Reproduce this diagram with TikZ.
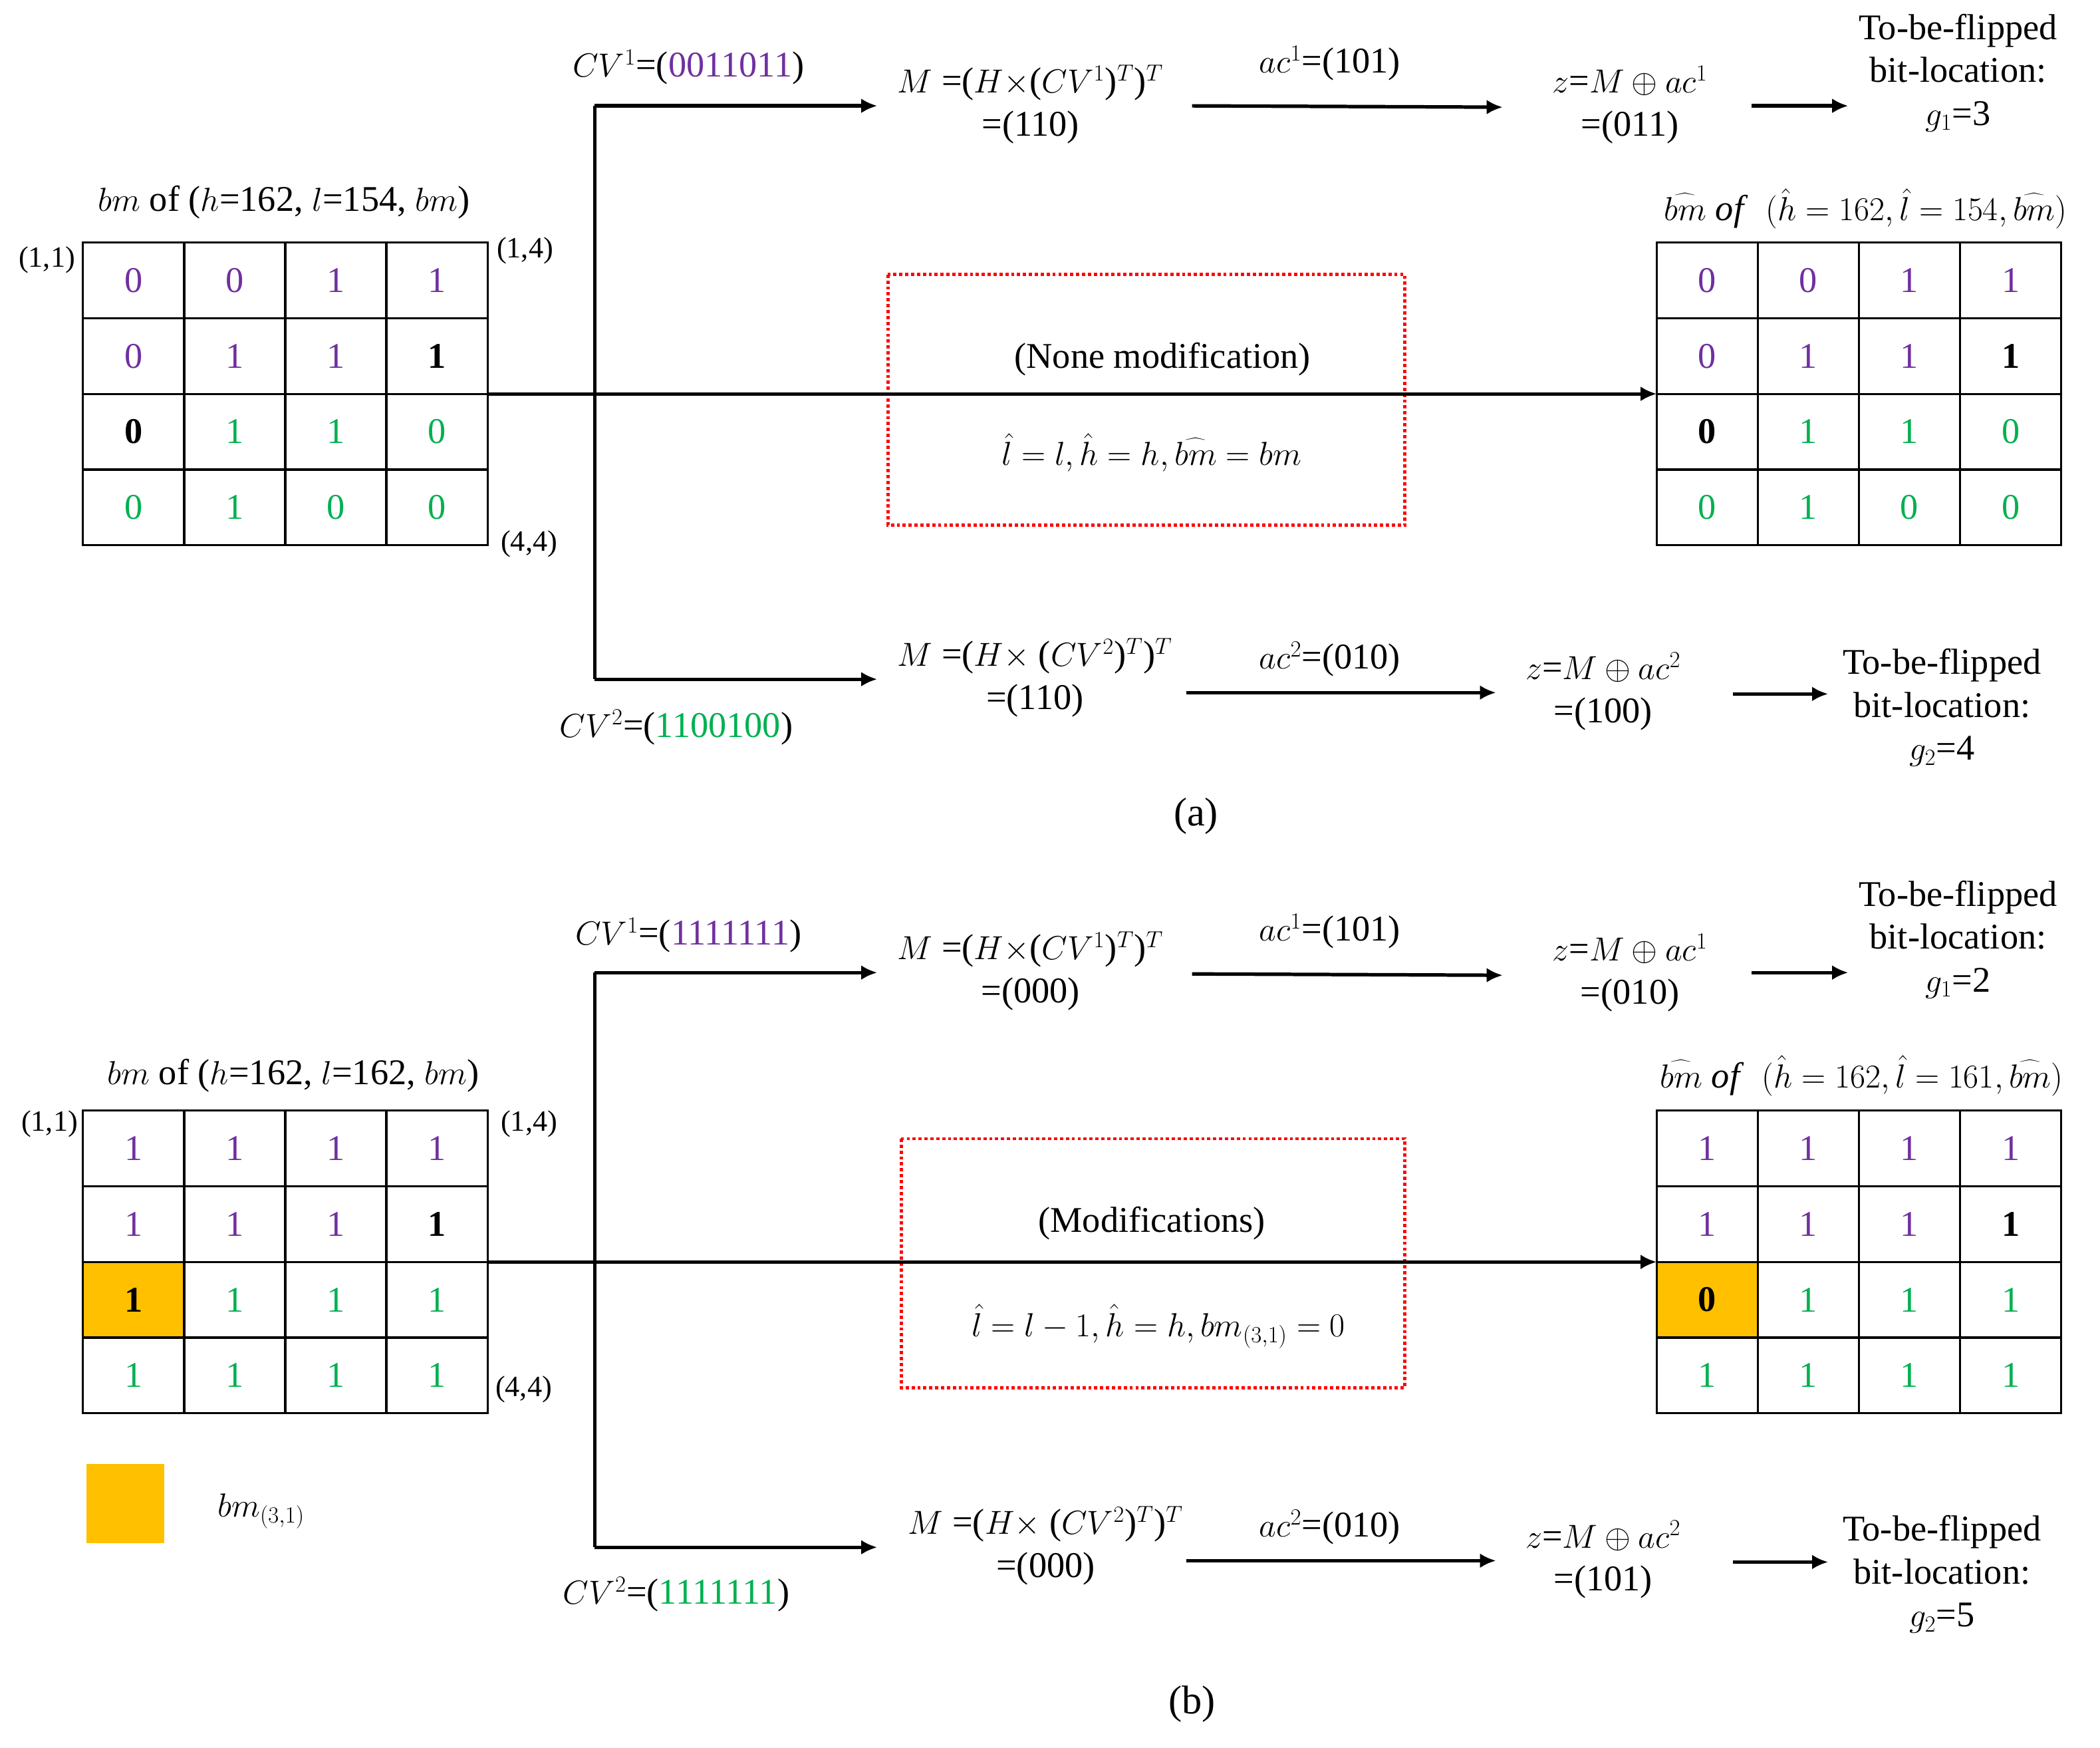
\documentclass[tikz,border=0pt]{standalone}
\usepackage{fontspec}
\setmainfont{Liberation Serif}
\usetikzlibrary{arrows.meta}
\definecolor{pp}{RGB}{112,48,160}
\definecolor{gg}{RGB}{0,176,80}
\definecolor{kk}{RGB}{0,0,0}
\definecolor{yy}{RGB}{255,192,0}
\begin{document}
\begin{tikzpicture}[x=1pt,y=-1pt,
  every node/.style={font=\fontsize{27}{32}\selectfont, inner sep=0pt},
  cell/.style={draw, line width=1.6pt, minimum width=75.5pt, minimum height=56.5pt, anchor=center},
  arr/.style={line width=2.6pt, -{Latex[length=12pt,width=11pt]}},
  ln/.style={line width=2.6pt},
  redbox/.style={draw=red, line width=2.4pt, dotted},
  sm/.style={font=\fontsize{22}{26}\selectfont}]
\useasboundingbox (0,0) rectangle (1568,1304.4);

\newcommand{\mygrid}[4]{%
  \foreach \c/\t/\f [count=\i from 0] in {#4} {
    \pgfmathtruncatemacro{\col}{mod(\i,4)}
    \pgfmathtruncatemacro{\row}{int(\i/4)}
    \node[cell, fill=\f, text=\c] (#1-\i) at ({#2+(\col+0.5)*75.5},{#3+(\row+0.5)*56.5}) {\t};
  }}

% ================= (a) =================
\mygrid{ga}{62}{181}{pp/0/white,pp/0/white,pp/1/white,pp/1/white,
 pp/0/white,pp/1/white,pp/1/white,kk/\textbf{1}/white,
 kk/\textbf{0}/white,gg/1/white,gg/1/white,gg/0/white,
 gg/0/white,gg/1/white,gg/0/white,gg/0/white}
\mygrid{ra}{1237}{181}{pp/0/white,pp/0/white,pp/1/white,pp/1/white,
 pp/0/white,pp/1/white,pp/1/white,kk/\textbf{1}/white,
 kk/\textbf{0}/white,gg/1/white,gg/1/white,gg/0/white,
 gg/0/white,gg/1/white,gg/0/white,gg/0/white}
\node (la) at (212,151) {$bm$ of ($h$=162, $l$=154, $bm$)};
\node[sm] (c11a) at (35,194) {(1,1)};
\node[sm] (c14a) at (392,187) {(1,4)};
\node[sm] (c44a) at (395,406) {(4,4)};
\node (lra) at (1393,156) {$\widehat{bm}$ \textit{of} \ $(\hat h=162,\hat l=154,\widehat{bm})$};

\coordinate (oa) at (364,294);
\coordinate (ta) at (444,79);
\coordinate (ba) at (444,507);
\coordinate (ea) at (1237,294);

\node (cv1a) at (514,50) {$CV^{1}$=(\textcolor{pp}{0011011})};
\node (cv2a) at (505,543) {$CV^{2}$=(\textcolor{gg}{1100100})};
\node[anchor=west] (m1a) at (664,79) {\begin{tabular}{c}$M$ =($H\times$($CV^1$)$^T$)$^T$\\=(110)\end{tabular}};
\node (ac1a) at (993,47) {$ac^1$=(101)};
\node (z1a) at (1217,79) {\begin{tabular}{c}$z$=$M\oplus ac^1$\\=(011)\end{tabular}};
\node (f1a) at (1462,55) {\begin{tabular}{c}To-be-flipped\\bit-location:\\$g_1$=3\end{tabular}};
\node[anchor=west] (m2a) at (664,507) {\begin{tabular}{c}$M$ =($H\times$ ($CV^2$)$^T$)$^T$\\=(110)\end{tabular}};
\node (ac2a) at (993,492) {$ac^2$=(010)};
\node (z2a) at (1197,517) {\begin{tabular}{c}$z$=$M\oplus ac^2$\\=(100)\end{tabular}};
\node (f2a) at (1450,529) {\begin{tabular}{c}To-be-flipped\\bit-location:\\$g_2$=4\end{tabular}};

\draw[redbox] (663,205) rectangle (1049,392);
\node (nm) at (868,268) {(None modification)};
\node (eqa) at (860,338) {$\hat l=l,\hat h=h,\widehat{bm}=bm$};

\draw[ln] (ta) -- (ba);
\draw[arr] (oa) -- (ea);
\draw[arr] (ta) -- (655,79);
\draw[arr] (ba) -- (655,507);
\draw[arr] (890,79) -- (1122,80);
\draw[arr] (1308,79) -- (1380,79);
\draw[arr] (886,517) -- (1117,517);
\draw[arr] (1294,518) -- (1365,518);
\node[font=\fontsize{30}{34}\selectfont] (capa) at (893,609) {(a)};

% ================= (b) =================
\mygrid{gb}{62}{829}{pp/1/white,pp/1/white,pp/1/white,pp/1/white,
 pp/1/white,pp/1/white,pp/1/white,kk/\textbf{1}/white,
 kk/\textbf{1}/yy,gg/1/white,gg/1/white,gg/1/white,
 gg/1/white,gg/1/white,gg/1/white,gg/1/white}
\mygrid{rb}{1237}{829}{pp/1/white,pp/1/white,pp/1/white,pp/1/white,
 pp/1/white,pp/1/white,pp/1/white,kk/\textbf{1}/white,
 kk/\textbf{0}/yy,gg/1/white,gg/1/white,gg/1/white,
 gg/1/white,gg/1/white,gg/1/white,gg/1/white}
\node (lb) at (219,803) {$bm$ of ($h$=162, $l$=162, $bm$)};
\node[sm] (c11b) at (37,839) {(1,1)};
\node[sm] (c14b) at (395,839) {(1,4)};
\node[sm] (c44b) at (391,1037) {(4,4)};
\node (lrb) at (1390,803) {$\widehat{bm}$ \textit{of} \ $(\hat h=162,\hat l=161,\widehat{bm})$};
\node[fill=yy, minimum width=58pt, minimum height=59pt] (leg) at (93.5,1122.5) {};
\node (legt) at (195,1128) {$bm_{(3,1)}$};

\coordinate (ob) at (364,942);
\coordinate (tb) at (444,726);
\coordinate (bb) at (444,1155);
\coordinate (eb) at (1237,942);

\node (cv1b) at (514,698) {$CV^{1}$=(\textcolor{pp}{1111111})};
\node (cv2b) at (505,1190) {$CV^{2}$=(\textcolor{gg}{1111111})};
\node[anchor=west] (m1b) at (664,726) {\begin{tabular}{c}$M$ =($H\times$($CV^1$)$^T$)$^T$\\=(000)\end{tabular}};
\node (ac1b) at (993,695) {$ac^1$=(101)};
\node (z1b) at (1217,727) {\begin{tabular}{c}$z$=$M\oplus ac^1$\\=(010)\end{tabular}};
\node (f1b) at (1462,702) {\begin{tabular}{c}To-be-flipped\\bit-location:\\$g_1$=2\end{tabular}};
\node[anchor=west] (m2b) at (672,1155) {\begin{tabular}{c}$M$ =($H\times$ ($CV^2$)$^T$)$^T$\\=(000)\end{tabular}};
\node (ac2b) at (993,1140) {$ac^2$=(010)};
\node (z2b) at (1197,1165) {\begin{tabular}{c}$z$=$M\oplus ac^2$\\=(101)\end{tabular}};
\node (f2b) at (1450,1176) {\begin{tabular}{c}To-be-flipped\\bit-location:\\$g_2$=5\end{tabular}};

\draw[redbox] (673,850) rectangle (1049,1036);
\node (md) at (860,913) {(Modifications)};
\node (eqb) at (865,990) {$\hat l=l-1,\hat h=h,bm_{(3,1)}=0$};

\draw[ln] (tb) -- (bb);
\draw[arr] (ob) -- (eb);
\draw[arr] (tb) -- (655,726);
\draw[arr] (bb) -- (655,1155);
\draw[arr] (890,727) -- (1122,728);
\draw[arr] (1308,726) -- (1380,726);
\draw[arr] (886,1165) -- (1117,1165);
\draw[arr] (1294,1166) -- (1365,1166);
\node[font=\fontsize{30}{34}\selectfont] (capb) at (890,1272) {(b)};
\end{tikzpicture}
\end{document}
